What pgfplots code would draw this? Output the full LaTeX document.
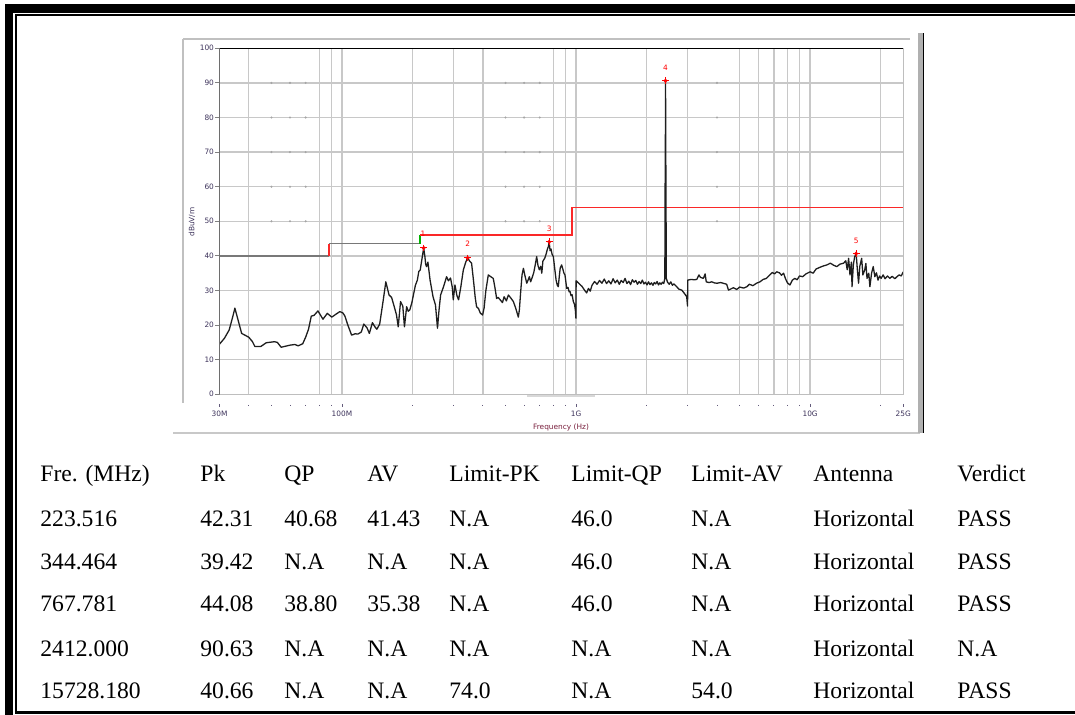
\documentclass[border=0pt]{standalone}
\usepackage{fontspec}
\setmainfont{Liberation Serif}
\newfontfamily\tabfont{Liberation Serif}
\newfontfamily\chartfont{DejaVu Sans}
\usepackage{pgfplots}
\pgfplotsset{compat=1.18}
\definecolor{gridc}{RGB}{200,200,200}
\definecolor{limred}{RGB}{250,40,40}
\definecolor{limgray}{RGB}{120,120,120}
\definecolor{ticktxt}{RGB}{60,50,90}
\definecolor{xlab}{RGB}{120,30,60}
\definecolor{tracec}{RGB}{30,30,30}
\newcommand{\cf}{\chartfont\fontsize{3.7}{4.4}\selectfont}
\newcommand{\tf}{\tabfont\fontsize{11.8}{14}\selectfont}

\pgfplotstableread{
f v
30 14.5
31.5 16.2
33 18.6
34.2 22.5
34.9 24.9
36 21.5
37.3 17.6
40 16.5
41.5 15.2
42.5 13.8
45 13.8
47.5 14.9
51.5 15.2
53 15.0
55 13.6
60 14.2
63 14.4
65 14.0
68 14.6
70 16.5
72 18.8
74 22.6
76 22.8
79 24.1
83 21.7
86.6 23.4
90.5 22.3
95 23.3
98 23.9
101 23.5
103 22.6
106 20.0
110 17.1
114 17.5
117 17.4
121 18.0
124 20.3
128 19.2
131 17.6
135 20.7
138 19.6
141 18.8
145 20.3
150 27.0
154 32.5
159 28.7
163 28.0
167 25.5
171 23.0
174 19.5
178 26.8
182 25.5
185 19.5
189 25.3
192 24.0
195 24.4
199 26.5
202 28.7
206 31.5
210 33.0
213 35.5
216 35.9
219 38.5
223.5 42.31
226 40.0
228 37.5
230 36.9
233 38.2
238 33.0
245 28.2
251 25.8
256 19.1
260 24.5
264 28.7
272 31.2
280 34.0
285 32.8
291 33.6
296 31.0
299 27.3
304 31.6
310 28.5
315 27.3
322 31.0
330 35.9
338 38.2
344.5 39.42
352 38.4
358 37.9
366 32.0
371 28.0
376 25.3
383 24.8
390 23.5
399 22.9
405 25.0
412 30.0
422 34.5
432 34.0
443 33.5
450 31.0
458 27.7
465 28.0
473 27.4
485 26.5
493 28.2
504 27.0
514 28.7
527 27.8
540 26.8
553 24.8
567 22.3
573 24.5
580 29.5
588 34.5
596 36.4
605 34.3
616 32.1
624 33.0
632 34.0
640 32.5
650 33.8
660 35.2
670 37.5
679 39.8
688 37.2
697 36.0
707 37.0
714 35.0
722 38.5
735 39.3
745 40.5
755 42.0
762 42.7
767.8 44.08
775 41.5
782 42.0
790 40.5
800 39.8
812 36.0
822 33.0
832 31.5
840 31.1
848 34.0
856 36.5
868 37.4
880 36.0
888 35.0
897 34.5
905 32.5
912 30.6
924 30.9
935 29.6
943 29.7
952 28.5
962 28.8
974 26.8
985 26.0
993 24.5
999 22.0
1001 32.8
1030 32.0
1060 31.2
1090 30.0
1110 29.3
1130 30.6
1150 29.8
1170 31.5
1200 32.6
1230 31.8
1260 32.9
1290 32.1
1320 33.3
1350 32.0
1380 32.8
1410 31.9
1440 33.4
1470 32.2
1500 33.0
1530 31.8
1560 32.9
1590 32.3
1620 33.5
1650 32.0
1680 32.7
1710 31.7
1740 33.1
1770 32.4
1800 32.9
1830 31.8
1860 32.6
1890 32.0
1920 33.0
1950 31.9
1980 32.4
2010 31.6
2040 32.5
2070 31.7
2100 32.2
2130 31.5
2160 32.3
2190 31.9
2220 32.6
2250 31.6
2280 32.2
2310 31.8
2340 32.4
2370 32.0
2395 33.5
2402 60.0
2408 73.0
2412 90.63
2416 73.0
2422 60.0
2430 33.5
2460 32.4
2500 31.8
2540 32.5
2580 31.5
2620 31.9
2690 31.1
2750 30.4
2830 30.1
2900 29.2
2970 28.2
2995 25.5
3000 33.0
3100 33.2
3200 33.1
3280 33.2
3350 34.5
3400 33.8
3500 33.5
3560 34.8
3600 32.5
3700 32.3
3800 32.5
3900 32.2
4000 32.1
4150 32.3
4300 32.0
4400 31.8
4480 30.1
4600 30.5
4700 30.8
4860 30.3
5000 31.0
5200 30.7
5370 31.1
5500 31.8
5700 31.4
5900 32.1
6100 32.5
6300 33.2
6500 33.5
6700 34.4
6900 35.2
7050 34.8
7200 35.4
7400 35.1
7550 34.4
7700 35.0
7850 33.4
8000 32.2
8200 31.6
8400 33.0
8600 33.5
8800 33.1
9000 34.2
9300 34.0
9600 34.8
10000 35.4
10300 35.0
10600 36.2
11000 36.7
11400 37.1
11800 37.4
12200 37.9
12600 37.3
13000 36.9
13400 37.6
13900 37.9
14200 38.6
14400 36.0
14600 39.3
14800 34.5
15000 38.2
15100 31.1
15300 37.5
15500 39.8
15728 40.66
15900 36.3
16100 32.1
16300 37.0
16600 39.3
16800 34.5
17100 35.9
17300 37.8
17500 33.5
17800 35.0
18000 31.1
18300 35.0
18600 36.9
18900 34.0
19200 35.1
19500 33.0
19800 34.2
20100 33.5
20500 34.5
20900 33.4
21400 34.2
21900 33.5
22400 34.1
23000 33.4
23500 34.0
24000 34.5
24500 34.2
25000 35.4
}\trace

\begin{document}
\begin{tikzpicture}
\path[use as bounding box] (0,0) rectangle (537.5pt,-357.5pt);
\begin{scope}[x=0.5pt,y=-0.5pt]
% document frame
\fill[black] (5,4) rectangle (1075,12.7);
\fill[black] (5,4) rectangle (13.3,715);
\fill[black] (15,14) rectangle (1075,15.7);
\fill[black] (15,14) rectangle (16.7,713.5);
\fill[black] (15,710.5) rectangle (1075,714);
% chart image border
\draw[color={rgb,255:red,192;green,192;blue,192}, line width=1pt] (183,39.5) -- (910,39.5);
\draw[color={rgb,255:red,192;green,192;blue,192}, line width=0.7pt] (183,39.5) -- (183,403);
\draw[color={rgb,255:red,200;green,200;blue,200}, line width=0.7pt] (173,433) -- (920,433);
\fill[color={rgb,255:red,176;green,176;blue,176}] (918,33) rectangle (922.5,433);
\fill[black] (922.5,33) rectangle (924.3,433);
\fill[color={rgb,255:red,216;green,216;blue,216}] (527,395.5) rectangle (595,397.5);
% labels
\node[font=\cf, text=ticktxt, rotate=90] at (192,222) {dBuV/m};
\node[font=\cf, text=xlab] at (561,427.3) {Frequency (Hz)};
% table
\begin{scope}[every node/.style={anchor=base west, inner sep=0pt, font=\tf}]
\foreach \x/\t in {40/{Fre. (MHz)},200/Pk,284/QP,367/AV,449/Limit-PK,571/Limit-QP,691/Limit-AV,813/Antenna,957/Verdict}
  \node at (\x,481) {\t};
\foreach \x/\t in {40/223.516,200/42.31,284/40.68,367/41.43,449/N.A,571/46.0,691/N.A,813/Horizontal,957/PASS}
  \node at (\x,526) {\t};
\foreach \x/\t in {40/344.464,200/39.42,284/N.A,367/N.A,449/N.A,571/46.0,691/N.A,813/Horizontal,957/PASS}
  \node at (\x,569) {\t};
\foreach \x/\t in {40/767.781,200/44.08,284/38.80,367/35.38,449/N.A,571/46.0,691/N.A,813/Horizontal,957/PASS}
  \node at (\x,611) {\t};
\foreach \x/\t in {40/2412.000,200/90.63,284/N.A,367/N.A,449/N.A,571/N.A,691/N.A,813/Horizontal,957/N.A}
  \node at (\x,656) {\t};
\foreach \x/\t in {40/15728.180,200/40.66,284/N.A,367/N.A,449/74.0,571/N.A,691/54.0,813/Horizontal,957/PASS}
  \node at (\x,698) {\t};
\end{scope}
\end{scope}

\begin{axis}[
  at={(109.75pt,-197.15pt)}, anchor=south west,
  scale only axis, width=341.9pt, height=173pt,
  xmode=log, xmin=30, xmax=25000, ymin=0, ymax=100,
  axis line style={draw=none},
  xtick=\empty,
  ytick={0,10,...,100},
  ytick pos=left,
  ytick style={draw=gray, line width=0.4pt},
  tick align=outside,
  major tick length=2.3pt,
  ymajorgrids=true,
  major grid style={draw=gridc, line width=0.7pt},
  yticklabel style={font=\cf, text=ticktxt, inner sep=0.3pt},
  /pgf/number format/assume math mode=true,
  clip=false,
]
% vertical grid lines
\pgfplotsinvokeforeach{40,80,90,100,200,300,400,800,900,1000,2000,3000,5000,6000,7000,8000,9000,10000,20000}{
  \draw[gridc, line width=0.7pt] (axis cs:#1,0) -- (axis cs:#1,100);}
% grid dots
\addplot[only marks, mark=*, mark size=0.3pt, color=gray!70] coordinates {
(50,50)(50,60)(50,70)(50,80)(50,90)
(60,50)(60,60)(60,70)(60,80)(60,90)
(70,50)(70,60)(70,70)(70,80)(70,90)
(500,50)(500,60)(500,70)(500,80)(500,90)
(600,50)(600,60)(600,70)(600,80)(600,90)
(700,50)(700,60)(700,70)(700,80)(700,90)
(4000,50)(4000,60)(4000,70)(4000,80)(4000,90)};
% limit lines
\addplot[draw=limgray, line width=0.65pt] coordinates {(30,40)(88,40)};
\addplot[draw=limred, line width=0.85pt] coordinates {(88,40)(88,43.5)};
\addplot[draw=limgray, line width=0.65pt] coordinates {(88,43.5)(216,43.5)};
\addplot[draw=green!70!black, line width=0.8pt] coordinates {(216,43.5)(216,46)};
\addplot[draw=limred, line width=0.85pt] coordinates {(216,46)(960,46)(960,54)};
\addplot[draw=limred, line width=0.85pt] coordinates {(960,54)(25000,54)};
% trace
\addplot[draw=tracec, line width=0.65pt, line join=round] table[x=f,y=v] {\trace};
% peaks
\addplot[only marks, mark=+, mark size=1.7pt, red, mark options={line width=0.45pt}] coordinates {(223.516,42.31)(344.464,39.42)(767.781,44.08)(2412,90.63)(15728.18,40.66)};
\addplot[only marks, mark=o, mark size=0.8pt, red, mark options={line width=0.35pt}] coordinates {(223.516,42.31)(344.464,39.42)(767.781,44.08)(2412,90.63)(15728.18,40.66)};
\node[font=\cf, text=red] at (axis cs:222,46.5) {1};
\node[font=\cf, text=red] at (axis cs:344.464,43.4) {2};
\node[font=\cf, text=red] at (axis cs:767.781,47.8) {3};
\node[font=\cf, text=red] at (axis cs:2412,94.4) {4};
\node[font=\cf, text=red] at (axis cs:15728.18,44.4) {5};
% axis frame
\draw[color={rgb,255:red,110;green,110;blue,110}, line width=0.6pt] (rel axis cs:0,0) -- (rel axis cs:0,1);
\draw[color={rgb,255:red,190;green,190;blue,190}, line width=0.6pt] (rel axis cs:1,1) -- (rel axis cs:1,0) -- (rel axis cs:0,0);
\draw[black, line width=0.7pt] (rel axis cs:0,1) -- (rel axis cs:1,1);
% x ticks below
\pgfplotsinvokeforeach{40,50,60,70,80,90,200,300,400,500,600,700,800,900,2000,3000,4000,5000,6000,7000,8000,9000,20000}{
  \draw[ticktxt!80, line width=0.4pt] (axis cs:#1,-3.05) -- (axis cs:#1,-3.45);}
\pgfplotsinvokeforeach{30,100,1000,10000,25000}{
  \draw[ticktxt!80, line width=0.4pt] (axis cs:#1,-2.8) -- (axis cs:#1,-3.8);}
\node[font=\cf, text=ticktxt] at (axis cs:30,-5.7) {30M};
\node[font=\cf, text=ticktxt] at (axis cs:100,-5.7) {100M};
\node[font=\cf, text=ticktxt] at (axis cs:1000,-5.7) {1G};
\node[font=\cf, text=ticktxt] at (axis cs:10000,-5.7) {10G};
\node[font=\cf, text=ticktxt] at (axis cs:25000,-5.7) {25G};
\end{axis}
\end{tikzpicture}
\end{document}
